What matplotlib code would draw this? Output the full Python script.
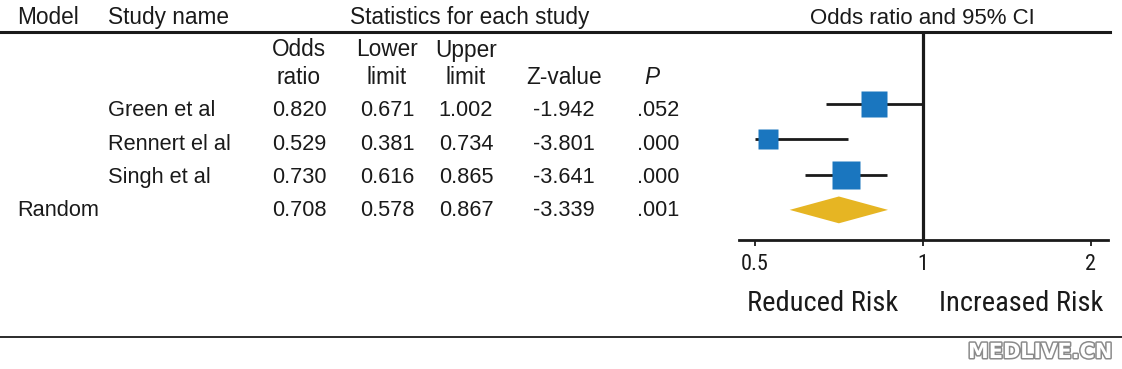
import numpy as np
import matplotlib
matplotlib.use("Agg")
import matplotlib.pyplot as plt
import matplotlib.transforms as mtransforms
import matplotlib.patheffects as pe
from matplotlib.lines import Line2D
from matplotlib import font_manager

# ---------------- data ----------------
models = ["", "", "", "Random"]
studies = ["Green et al", "Rennert el al", "Singh et al", ""]
odds_ratio = [0.820, 0.529, 0.730, 0.708]
lower_limit = [0.671, 0.381, 0.616, 0.578]
upper_limit = [1.002, 0.734, 0.865, 0.867]
z_value = [-1.942, -3.801, -3.641, -3.339]
p_value = [".052", ".000", ".000", ".001"]
rel_weight = [0.93, 0.72, 1.0]          # relative study weights (square size)
ticks = [0.5, 1, 2]
tick_labels = ["0.5", "1", "2"]
col_headers_1 = ["Odds", "Lower", "Upper", "", ""]
col_headers_2 = ["ratio", "limit", "limit", "Z-value", "P"]

# ---------------- fonts ----------------
avail = {f.name for f in font_manager.fontManager.ttflist}
HEAD = ["Liberation Sans", "DejaVu Sans"]
NARROW = [f for f in ["Liberation Sans Narrow", "Roboto Condensed", "Liberation Sans"] if f in avail] + ["DejaVu Sans"]

W, H = 1122, 369
fig = plt.figure(figsize=(W / 100, H / 100), dpi=100)
fig.patch.set_facecolor("white")
# pixel transform, origin at top-left
px = mtransforms.Affine2D().scale(1 / W, -1 / H).translate(0, 1) + fig.transFigure

BLUE = "#1a76bf"
GOLD = "#e6b523"
INK = "#1a1a1a"

# ---------------- forest axes ----------------
ax = fig.add_axes([739 / W, (H - 240) / H, (1108 - 739) / W, (240 - 32) / H])
ax.set_xscale("log")
ax.set_xlim(0.469, 2.148)
ax.set_ylim(3.853, -2.04)
for s in ["top", "left", "right"]:
    ax.spines[s].set_visible(False)
ax.spines["bottom"].set_linewidth(2.0)
ax.spines["bottom"].set_color(INK)
ax.set_yticks([])
ax.set_xticks(ticks)
ax.set_xticklabels(tick_labels)
ax.xaxis.set_minor_locator(matplotlib.ticker.NullLocator())
ax.tick_params(axis="x", direction="out", length=4, width=1.3, color=INK,
               pad=6, labelsize=16, labelcolor=INK)
for lab in ax.get_xticklabels():
    lab.set_family(NARROW)
ax.patch.set_alpha(0)

ax.axvline(1, color=INK, lw=2.3, zorder=2)

n_st = len(rel_weight)
rows = np.arange(len(odds_ratio))
ci_clip = 0.5
ax.hlines(rows[:n_st], np.maximum(lower_limit[:n_st], ci_clip), upper_limit[:n_st],
          color=INK, lw=2.0, zorder=3)
for i in range(n_st):
    ax.plot(odds_ratio[i], rows[i], marker="s", ms=19.5 * rel_weight[i],
            color=BLUE, mec="none", zorder=4)
r = rows[-1]
hh = 0.38
ax.fill([lower_limit[-1], odds_ratio[-1], upper_limit[-1], odds_ratio[-1]],
        [r, r - hh, r, r + hh], color=GOLD, lw=0, zorder=4)

# ---------------- lines ----------------
fig.add_artist(Line2D([0, 1110], [32, 32], transform=px, color=INK, lw=2.2))
fig.add_artist(Line2D([0, W], [337, 337], transform=px, color=INK, lw=1.3))

# ---------------- header texts ----------------
hk = dict(transform=px, fontsize=16.3, family=HEAD, color=INK, va="baseline")
fig.text(17, 24, "Model", ha="left", **hk)
fig.text(108, 24, "Study name", ha="left", **hk)
fig.text(470, 24, "Statistics for each study", ha="center", **hk)
blend = mtransforms.blended_transform_factory(ax.transData, px)
fig.text(1, 24, "Odds ratio and 95% CI", ha="center", va="baseline", fontsize=16.0,
         family=HEAD, color=INK, transform=blend)

col_x = [299, 387, 466, 564, 658]
for j, (h1, h2) in enumerate(zip(col_headers_1, col_headers_2)):
    if h1:
        fig.text(col_x[j], 56.5, h1, ha="center", **hk)
    style = "italic" if h2 == "P" else "normal"
    fig.text(col_x[j] - (6 if h2 == "P" else 0), 83.5, h2, ha="center", style=style, **hk)

# ---------------- data rows ----------------
dk = dict(transform=px, fontsize=15.7, family=HEAD, color=INK, va="baseline")
for i in range(len(odds_ratio)):
    y = 116.5 + 33.2 * i
    if models[i]:
        fig.text(17, y, models[i], ha="left", **dk)
    if studies[i]:
        fig.text(108, y, studies[i], ha="left", **dk)
    vals = [f"{odds_ratio[i]:.3f}", f"{lower_limit[i]:.3f}", f"{upper_limit[i]:.3f}",
            f"{z_value[i]:.3f}", p_value[i]]
    for j, v in enumerate(vals):
        fig.text(col_x[j], y, v, ha="center", **dk)

# ---------------- risk labels ----------------
rk = dict(transform=px, fontsize=20.5, family=NARROW, color=INK, va="baseline", ha="center")
fig.text(823, 311, "Reduced Risk", **rk)
fig.text(1021, 311, "Increased Risk", **rk)

# ---------------- watermark ----------------
fig.text(1040, 352, "MEDLIVE.CN", transform=px, ha="center", va="center",
         fontsize=15, family=["DejaVu Sans"], fontweight="bold", color="white",
         path_effects=[pe.withStroke(linewidth=2.2, foreground="#8a8a8a")])

fig.savefig("out.png", dpi=100, facecolor="white")
